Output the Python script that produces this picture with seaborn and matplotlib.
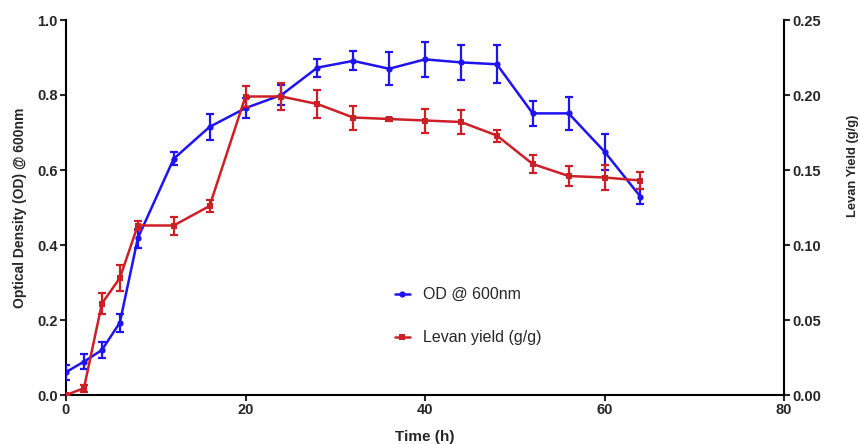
import numpy as np
import pandas as pd
import matplotlib
matplotlib.use("Agg")
import matplotlib.pyplot as plt
import seaborn as sns

# Sampling times (h)
time_h = [0, 2, 4, 6, 8, 12, 16, 20, 24, 28, 32, 36, 40, 44, 48, 52, 56, 60, 64]

# Optical density at 600 nm (mean and error)
od_mean = [0.061, 0.089, 0.120, 0.193, 0.418, 0.630, 0.715, 0.765, 0.800, 0.873,
           0.891, 0.870, 0.895, 0.887, 0.882, 0.751, 0.751, 0.649, 0.529]
od_err = [0.020, 0.020, 0.021, 0.024, 0.025, 0.018, 0.035, 0.027, 0.027, 0.024,
          0.025, 0.044, 0.047, 0.047, 0.050, 0.033, 0.044, 0.048, 0.021]

# Levan yield (g/g, mean and error)
levan_mean = [0.000, 0.0045, 0.061, 0.078, 0.113, 0.113, 0.126, 0.199, 0.199, 0.194,
              0.185, 0.184, 0.183, 0.182, 0.173, 0.154, 0.146, 0.145, 0.143]
levan_err = [0.000, 0.0025, 0.0069, 0.0087, 0.003, 0.006, 0.004, 0.007, 0.009, 0.0093,
             0.008, 0.001, 0.008, 0.0081, 0.004, 0.0063, 0.0069, 0.0083, 0.0056]

x_ticks = [0, 20, 40, 60, 80]
od_ticks = [0.0, 0.2, 0.4, 0.6, 0.8, 1.0]
levan_ticks = [0.00, 0.05, 0.10, 0.15, 0.20, 0.25]

BLUE = "#1f13f0"
RED = "#cc1f26"

sns.set_style("ticks")
plt.rcParams["font.family"] = ["Liberation Sans", "DejaVu Sans"]

df = pd.DataFrame({"time": time_h, "od": od_mean, "od_err": od_err,
                   "levan": levan_mean, "levan_err": levan_err})

fig = plt.figure(figsize=(8.6, 4.44), dpi=100)
ax = fig.add_axes([66 / 860, 1 - 395 / 444, (784 - 66) / 860, (395 - 20) / 444])
ax2 = ax.twinx()

# OD curve on the left axis
ax.errorbar(df["time"], df["od"], yerr=df["od_err"], fmt="none", ecolor=BLUE,
            elinewidth=1.6, capsize=3, capthick=1.6, zorder=3)
sns.lineplot(data=df, x="time", y="od", ax=ax, color=BLUE, linewidth=1.8,
             marker="o", markersize=4.5, markeredgewidth=0, label="OD @ 600nm",
             legend=False, zorder=4)

# Levan yield curve on the right axis
ax2.errorbar(df["time"], df["levan"], yerr=df["levan_err"], fmt="none", ecolor=RED,
             elinewidth=1.6, capsize=3, capthick=1.6, zorder=3)
sns.lineplot(data=df, x="time", y="levan", ax=ax2, color=RED, linewidth=1.8,
             marker="s", markersize=4.5, markeredgewidth=0, label="Levan yield (g/g)",
             legend=False, zorder=4)

ax.set_xlim(0, 80)
ax.set_ylim(0, 1.0)
ax2.set_ylim(0, 0.25)
ax.set_xticks(x_ticks)
ax.set_yticks(od_ticks)
ax2.set_yticks(levan_ticks)
ax.set_xticklabels([str(t) for t in x_ticks])
ax.set_yticklabels([f"{v:.1f}" for v in od_ticks])
ax2.set_yticklabels([f"{v:.2f}" for v in levan_ticks])

for a in (ax, ax2):
    a.spines["top"].set_visible(False)
    for s in ("left", "right", "bottom"):
        a.spines[s].set_linewidth(1.5)
        a.spines[s].set_color("black")
    a.tick_params(axis="both", width=1.5, length=4, labelsize=10.5, pad=2)
    for lbl in a.get_xticklabels() + a.get_yticklabels():
        lbl.set_fontweight("bold")
ax.spines["right"].set_visible(False)
ax2.spines["left"].set_visible(False)
ax2.spines["bottom"].set_visible(False)

ax.set_xlabel("Time (h)", fontsize=11, fontweight="bold")
ax.xaxis.set_label_coords(0.5, -0.112)
ax.xaxis.label.set_va("center")
ax.set_ylabel("Optical Density (OD) @ 600nm", fontsize=10, fontweight="bold")
ax.yaxis.set_label_coords(-0.064, 0.5)
ax.yaxis.label.set_va("center")
ax2.set_ylabel("Levan Yield (g/g)", fontsize=9.3, fontweight="bold", rotation=90)
ax2.yaxis.set_label_coords(1.096, 0.612)
ax2.yaxis.label.set_va("center")

h1, l1 = ax.get_legend_handles_labels()
h2, l2 = ax2.get_legend_handles_labels()
leg = ax2.legend(h1 + h2, l1 + l2, loc="center left", bbox_to_anchor=(0.438, 0.21),
                 frameon=False, fontsize=11.5, handlelength=0.95, labelspacing=1.75,
                 handletextpad=0.8)

fig.savefig("out.png", dpi=100)
